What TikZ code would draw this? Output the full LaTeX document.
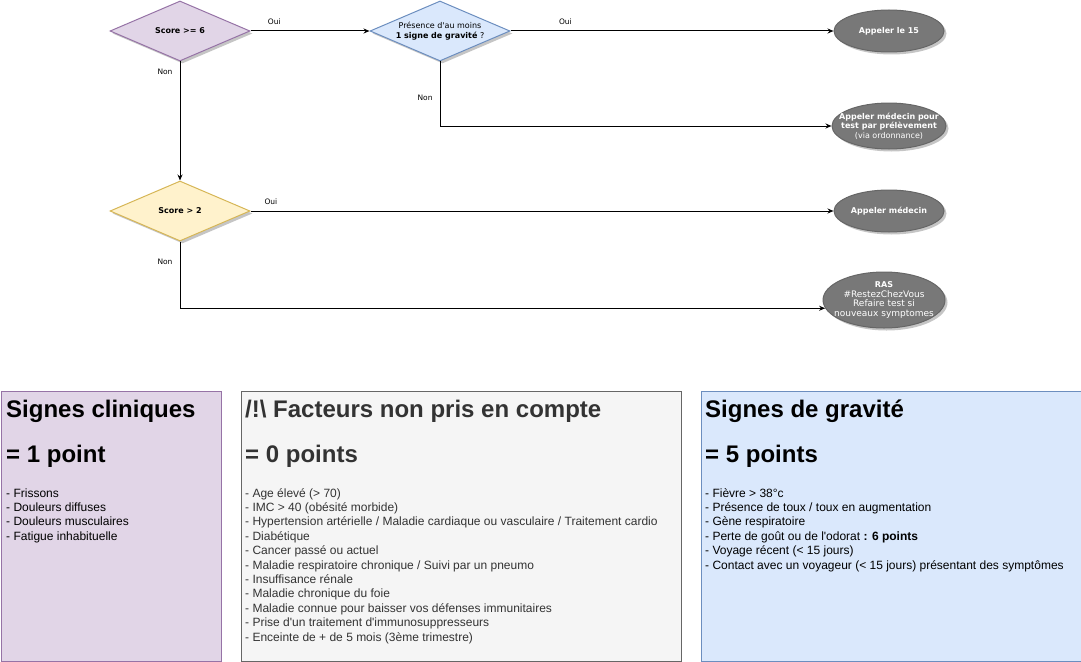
\documentclass[tikz,border=0pt]{standalone}
\usepackage{fontspec}
\setmainfont{Liberation Sans}
\newfontfamily\flowfont{DejaVu Sans}
\usetikzlibrary{shapes.geometric,arrows.meta,shadows,positioning}

\definecolor{purple_fill}{HTML}{E1D5E7}
\definecolor{purple_line}{HTML}{9673A6}
\definecolor{blue_fill}{HTML}{DAE8FC}
\definecolor{blue_line}{HTML}{6C8EBF}
\definecolor{yellow_fill}{HTML}{FFF2CC}
\definecolor{yellow_line}{HTML}{D6B656}
\definecolor{grey_fill}{HTML}{F5F5F5}
\definecolor{grey_line}{HTML}{666666}
\definecolor{grey_text}{HTML}{333333}
\definecolor{term_fill}{HTML}{787878}

\begin{document}
\begin{tikzpicture}[x=1pt,y=-1pt]
	\tikzstyle{shade} = [drop shadow={shadow xshift=2.5pt, shadow yshift=-2.5pt, fill=black!45, opacity=0.5}]
	\tikzstyle{decision} = [diamond, draw, line width=1pt, aspect=2.33, minimum width=140pt, minimum height=60pt, inner sep=0pt, align=center, font=\flowfont\fontsize{8}{10}\selectfont, shade]
	\tikzstyle{decision_1} = [decision, draw=purple_line, fill=purple_fill]
	\tikzstyle{decision_2} = [decision, draw=blue_line, fill=blue_fill]
	\tikzstyle{decision_3} = [decision, draw=yellow_line, fill=yellow_fill]
	\tikzstyle{terminal} = [ellipse, draw=grey_line, fill=term_fill, line width=1pt, inner sep=0pt, shade]
	\tikzstyle{terminal_text} = [inner sep=0pt, align=center, text=white, font=\flowfont\fontsize{8}{9.5}\selectfont]
	\tikzstyle{arrow} = [draw, line width=1pt, -{Stealth[length=6pt, width=5pt]}]
	\tikzstyle{edge_label} = [inner sep=1pt, font=\flowfont\fontsize{7.5}{9}\selectfont]
	\tikzstyle{legend_box} = [rectangle, draw, line width=1pt, anchor=north west, inner sep=0pt]
	\tikzstyle{legend_head} = [anchor=base west, inner sep=0pt, font=\fontsize{24}{28}\selectfont\bfseries]
	\tikzstyle{legend_item} = [anchor=base west, inner sep=0pt, font=\fontsize{12}{14}\selectfont]

	\useasboundingbox (0,0) rectangle (1081,661);

%------------------------------------------------------------
	\node[decision_1] (q0) at (180,31) {\textbf{Score >= 6}};
	\node[decision_2] (q1) at (440,31) {Présence d\textquotesingle au moins\\\textbf{1 signe de gravité} ?};
	\node[decision_3] (q2) at (180,211) {\textbf{Score > 2}};

%------------------------------------------------------------

	\node[terminal, minimum width=110pt, minimum height=42pt, label={[terminal_text]center:\textbf{Appeler le 15}}] (a0) at (889,31) {};
	\node[terminal, minimum width=114pt, minimum height=46pt, label={[terminal_text]center:\textbf{Appeler médecin pour}\\\textbf{test par prélèvement}\\(via ordonnance)}] (a1) at (889,126) {};
	\node[terminal, minimum width=110pt, minimum height=42pt, label={[terminal_text]center:\textbf{Appeler médecin}}] (a2) at (889,211) {};
	\node[terminal, minimum width=122pt, minimum height=56pt, label={[terminal_text, font=\flowfont\fontsize{9}{9.5}\selectfont]center:{\fontsize{8}{9.5}\selectfont\textbf{RAS}}\\\#RestezChezVous\\Refaire test si\\nouveaux symptomes}] (a3) at (884,300) {};

%------------------------------------------------------------

	\draw[arrow] (q0.east) -- node[edge_label, pos=0.2, above=5pt]{Oui} (q1.west);
	\draw[arrow] (q1.east) -- node[edge_label, pos=0.17, above=5pt]{Oui} (a0.west);
	\draw[arrow] (q1.south) |- node[edge_label, pos=0.28, left=6pt]{Non} (a1.west);
	\draw[arrow] (q0.south) -- node[edge_label, pos=0.09, left=6pt]{Non} (q2.north);
	\draw[arrow] (q2.east) -- node[edge_label, pos=0.035, above=5pt]{Oui} (a2.west);
	\draw[arrow] (q2.south) |- node[edge_label, pos=0.15, left=6pt]{Non} (a3.188);

%------------------------------------------------------------

	\node[legend_box, draw=purple_line, fill=purple_fill, minimum width=220pt, minimum height=270pt] (b0) at (0.5,390.5) {};
	\node[legend_box, draw=grey_line, fill=grey_fill, minimum width=440pt, minimum height=270pt] (b1) at (240.5,390.5) {};
	\node[legend_box, draw=blue_line, fill=blue_fill, minimum width=380pt, minimum height=270pt] (b2) at (700.5,390.5) {};

%------------------------------------------------------------

	\node[legend_head] (h00) at (6,417) {Signes cliniques};
	\node[legend_head] (h01) at (6,462) {= 1 point};
	\foreach \txt [count=\i from 0] in {Frissons, Douleurs diffuses, Douleurs musculaires, Fatigue inhabituelle}
		\node[legend_item] (l0\i) at (6,{497+14.4*\i}) {- \txt};

%------------------------------------------------------------

	\node[legend_head, text=grey_text] (h10) at (245,417) {/!\textbackslash{} Facteurs non pris en compte};
	\node[legend_head, text=grey_text] (h11) at (245,462) {= 0 points};
	\foreach \txt [count=\i from 0] in {Age élevé (> 70), IMC > 40 (obésité morbide), Hypertension artérielle / Maladie cardiaque ou vasculaire / Traitement cardio, Diabétique, Cancer passé ou actuel, Maladie respiratoire chronique / Suivi par un pneumo, Insuffisance rénale, Maladie chronique du foie, Maladie connue pour baisser vos défenses immunitaires, Prise d\textquotesingle un traitement d\textquotesingle immunosuppresseurs, Enceinte de + de 5 mois (3ème trimestre)}
		\node[legend_item, text=grey_text] (l1\i) at (245,{497+14.4*\i}) {- \txt};

%------------------------------------------------------------

	\node[legend_head] (h20) at (705,417) {Signes de gravité};
	\node[legend_head] (h21) at (705,462) {= 5 points};
	\foreach \txt [count=\i from 0] in {Fièvre > 38°c, Présence de toux / toux en augmentation, Gène respiratoire, Perte de goût ou de l\textquotesingle odorat \textbf{: 6 points}, Voyage récent (< 15 jours), Contact avec un voyageur (< 15 jours) présentant des symptômes}
		\node[legend_item] (l2\i) at (705,{497+14.4*\i}) {- \txt};

\end{tikzpicture}
\end{document}
